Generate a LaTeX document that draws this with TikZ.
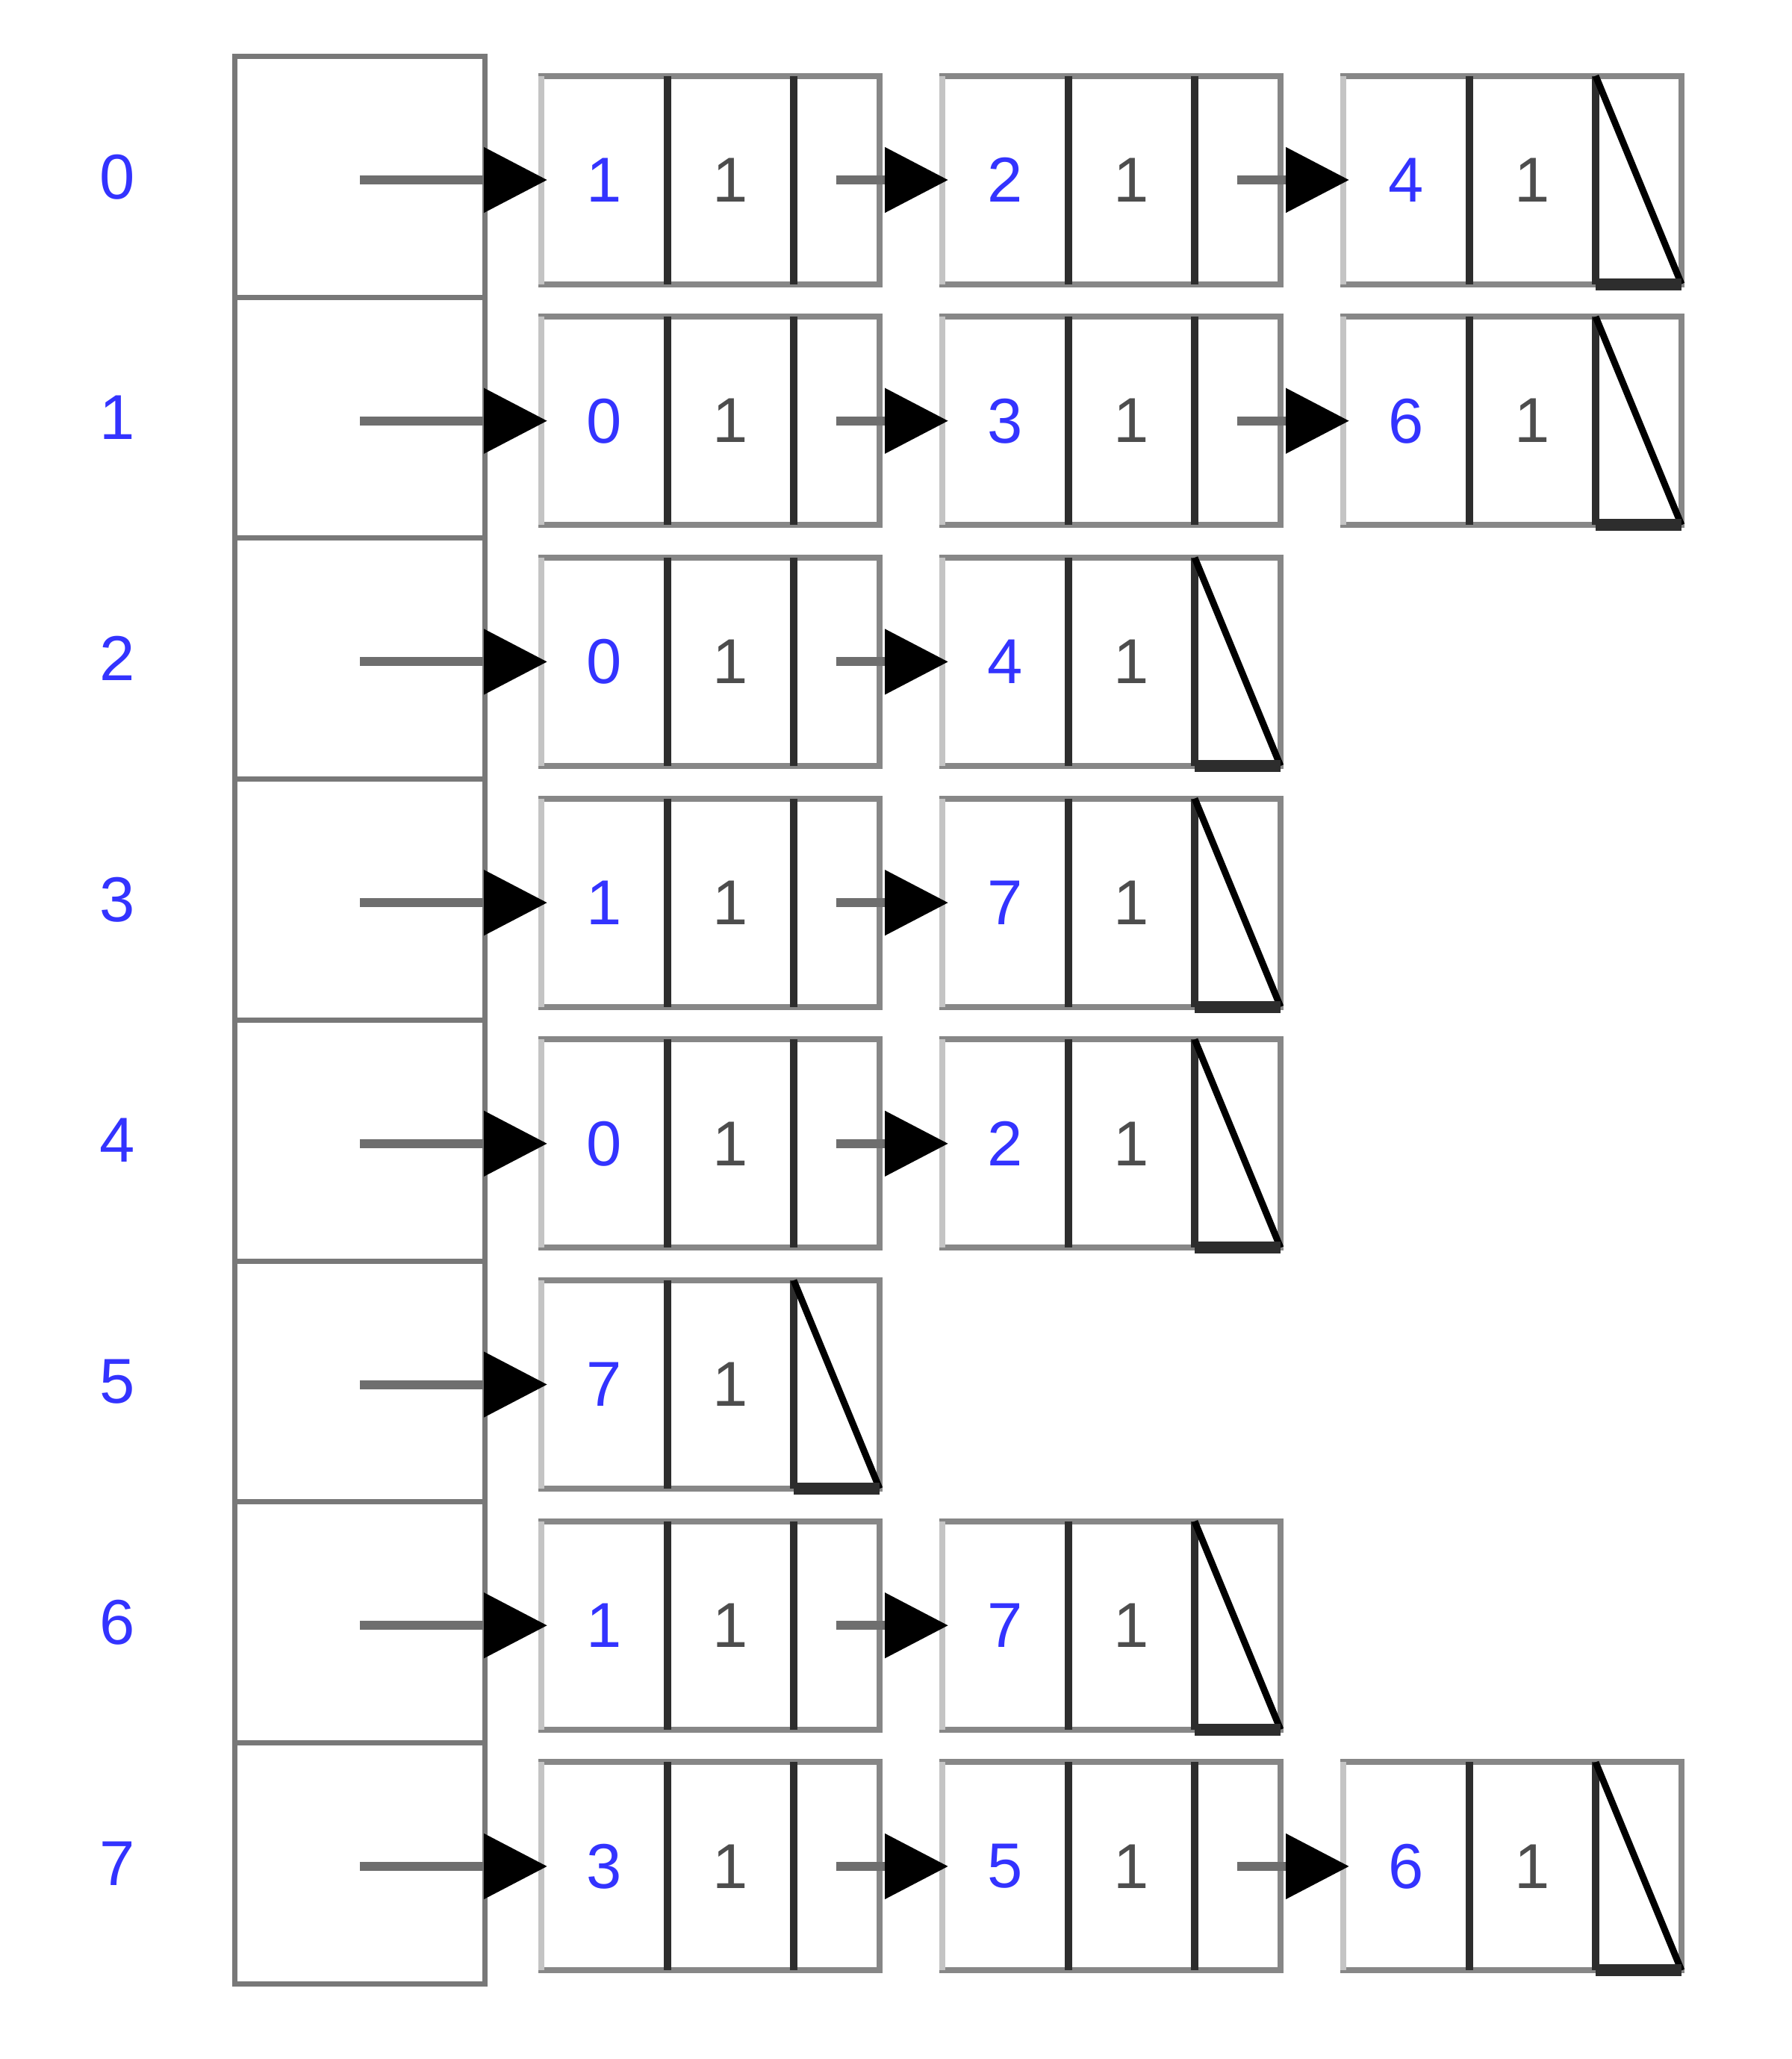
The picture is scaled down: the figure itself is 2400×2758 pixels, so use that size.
\documentclass[tikz,border=0pt]{standalone}
\usepackage{fontspec}
\setmainfont{Liberation Sans}
\usetikzlibrary{arrows.meta}
\definecolor{idxblue}{RGB}{51,51,255}
\definecolor{wgray}{RGB}{77,77,77}
\definecolor{edgegray}{RGB}{135,135,135}
\definecolor{lightedge}{RGB}{196,196,196}
\definecolor{divdark}{RGB}{45,45,45}
\definecolor{colgray}{RGB}{120,120,120}
\definecolor{arrowgray}{RGB}{110,110,110}
\begin{document}
\begin{tikzpicture}[x=0.1pt,y=-0.1pt,
  headcell/.style={draw=colgray, line width=0.7pt, minimum width=33.5pt, minimum height=32.27pt, inner sep=0pt, outer sep=0pt},
  listnode/.style={draw=edgegray, line width=0.8pt, minimum width=45.3pt, minimum height=27.9pt, inner sep=0pt, outer sep=0pt},
  idxlabel/.style={text=idxblue, font=\fontsize{8.5}{10}\selectfont, inner sep=0pt},
  valtext/.style={text=idxblue, font=\fontsize{8.5}{10}\selectfont, inner sep=0pt},
  wtext/.style={text=wgray, font=\fontsize{8.5}{10}\selectfont, inner sep=0pt},
  leftedge/.style={draw=lightedge, line width=0.8pt},
  divider/.style={draw=divdark, line width=1pt},
  nullline/.style={draw=black, line width=0.9pt},
  nullbase/.style={draw=divdark, line width=1.6pt},
  ptr/.style={draw=arrowgray, line width=1.2pt, -{Triangle[length=8.5pt,width=8.5pt,color=black]}, shorten >=-0.8pt},
]
\useasboundingbox (0,0) rectangle (2400,2758);
\foreach \r/\nn/\vals in {0/3/{1,2,4},1/3/{0,3,6},2/2/{0,4},3/2/{1,7},4/2/{0,2},5/1/{7},6/2/{1,7},7/3/{3,5,6}} {
  \pgfmathsetmacro\yc{241+322.7*\r}
  \pgfmathsetmacro\yh{236.85+322.7*\r}
  \node[headcell] (h\r) at (482,\yh) {};
  \node[idxlabel] (l\r) at (157,\yh) {\r};
  \foreach \v [count=\j] in \vals {
    \pgfmathsetmacro\xc{951.5+537*(\j-1)}
    \node[listnode] (n\r-\j) at (\xc,\yc) {};
    \draw[leftedge] (n\r-\j.north west) -- (n\r-\j.south west);
    \node[valtext] (v\r-\j) at ([xshift=8.45pt]n\r-\j.west) {\v};
    \node[wtext] (w\r-\j) at ([xshift=25.35pt]n\r-\j.west) {1};
    \draw[divider] ([xshift=16.9pt]n\r-\j.north west) -- ([xshift=16.9pt]n\r-\j.south west);
    \draw[divider] ([xshift=33.8pt]n\r-\j.north west) -- ([xshift=33.8pt]n\r-\j.south west);
    \coordinate (p\r-\j) at ([xshift=39.55pt]n\r-\j.west);
    \ifnum\j=\nn
      \draw[nullline] ([xshift=33.8pt]n\r-\j.north west) -- (n\r-\j.south east);
      \draw[nullbase] ([xshift=33.8pt]n\r-\j.south west) -- (n\r-\j.south east);
    \fi
    \ifnum\j>1
      \pgfmathtruncatemacro\jp{\j-1}
      \draw[ptr] (p\r-\jp) -- (n\r-\j.west);
    \fi
  }
  \draw[ptr] (h\r.center |- n\r-1.west) -- (n\r-1.west);
}
\end{tikzpicture}
\end{document}
